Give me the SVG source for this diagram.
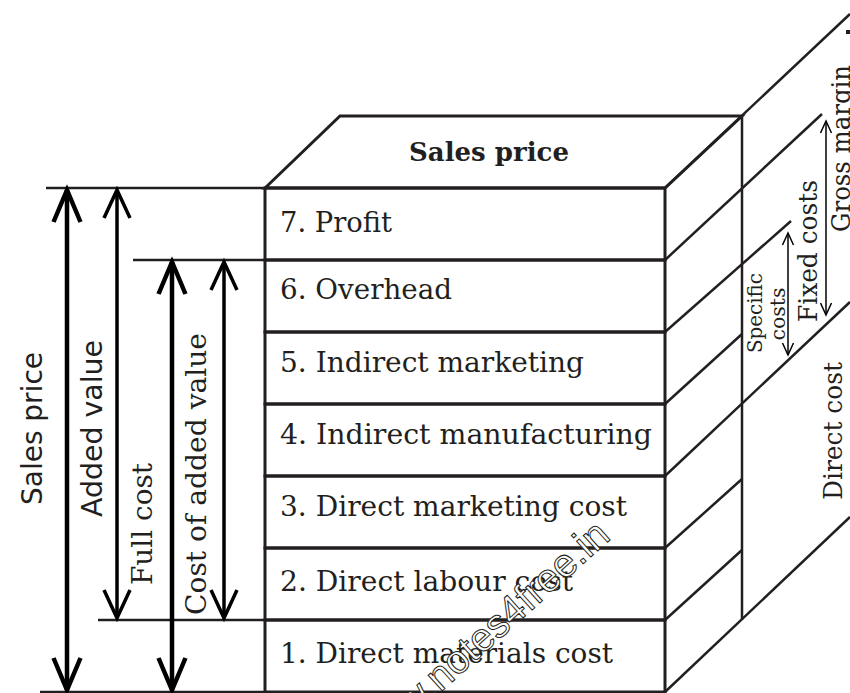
<svg xmlns="http://www.w3.org/2000/svg" width="850" height="693" viewBox="0 0 850 693">
<style>
.ln{stroke:#231f20;fill:none;stroke-linecap:butt}
.box{stroke:#231f20;stroke-width:3;fill:none}
.row{font-family:"DejaVu Serif","Liberation Serif",serif;font-size:27px;fill:#231f20}
.sans{font-family:"DejaVu Sans","Liberation Sans",sans-serif;font-size:28px;fill:#231f20}
.ser{font-family:"DejaVu Serif","Liberation Serif",serif;fill:#231f20}
.title{font-family:"DejaVu Serif","Liberation Serif",serif;font-size:26px;font-weight:bold;fill:#231f20}
.wm{font-family:"Liberation Sans","DejaVu Sans",sans-serif;font-size:40px;fill:#fff;stroke:#231f20;stroke-width:1}
</style>
<defs>
<marker id="hb" markerUnits="userSpaceOnUse" markerWidth="40" markerHeight="40" refX="0" refY="0" orient="auto-start-reverse" overflow="visible">
<path d="M-32,-13.5 L0,0 L-32,13.5" fill="none" stroke="#000" stroke-width="4.5"/>
</marker>
<marker id="hm" markerUnits="userSpaceOnUse" markerWidth="40" markerHeight="40" refX="0" refY="0" orient="auto-start-reverse" overflow="visible">
<path d="M-28,-13 L0,0 L-28,13" fill="none" stroke="#000" stroke-width="3.5"/>
</marker>
<marker id="hs" markerUnits="userSpaceOnUse" markerWidth="20" markerHeight="20" refX="0" refY="0" orient="auto-start-reverse" overflow="visible">
<path d="M-12,-5.5 L0,0 L-12,5.5" fill="none" stroke="#000" stroke-width="1.5"/>
</marker>
</defs>
<rect width="850" height="693" fill="#fff"/>

<g id="depth" class="ln" stroke-width="2.5">
<line x1="742" y1="116" x2="742" y2="620"/>
<line x1="665" y1="188" x2="850" y2="14"/>
<line x1="665" y1="260" x2="822" y2="114"/>
<line x1="665" y1="332" x2="791" y2="221"/>
<line x1="665" y1="404" x2="742" y2="334"/>
<line x1="665" y1="476" x2="850" y2="302"/>
<line x1="665" y1="548" x2="742" y2="479"/>
<line x1="665" y1="620" x2="742" y2="550"/>
<line x1="665" y1="692" x2="850" y2="517"/>
<rect x="846" y="30" width="4" height="4" fill="#231f20" stroke="none"/>
</g>

<g id="top-face">
<polygon class="box" points="265,188 340,116 742,116 665,188"/>
<text class="title" x="489" y="161" text-anchor="middle">Sales price</text>
</g>

<g id="row7"><rect class="box" x="265" y="188" width="400" height="72"/><text class="row" x="280" y="232" textLength="112" lengthAdjust="spacingAndGlyphs">7. Profit</text></g>
<g id="row6"><rect class="box" x="265" y="260" width="400" height="72"/><text class="row" x="280" y="299" textLength="172" lengthAdjust="spacingAndGlyphs">6. Overhead</text></g>
<g id="row5"><rect class="box" x="265" y="332" width="400" height="72"/><text class="row" x="280" y="372" textLength="304" lengthAdjust="spacingAndGlyphs">5. Indirect marketing</text></g>
<g id="row4"><rect class="box" x="265" y="404" width="400" height="72"/><text class="row" x="280" y="444" textLength="372" lengthAdjust="spacingAndGlyphs">4. Indirect manufacturing</text></g>
<g id="row3"><rect class="box" x="265" y="476" width="400" height="72"/><text class="row" x="280" y="516" textLength="347" lengthAdjust="spacingAndGlyphs">3. Direct marketing cost</text></g>
<g id="row2"><rect class="box" x="265" y="548" width="400" height="72"/><text class="row" x="280" y="591" textLength="293" lengthAdjust="spacingAndGlyphs">2. Direct labour cost</text></g>
<g id="row1"><rect class="box" x="265" y="620" width="400" height="72"/><text class="row" x="280" y="663" textLength="333" lengthAdjust="spacingAndGlyphs">1. Direct materials cost</text></g>

<g id="connectors">
<g class="ln" stroke-width="2.5">
<line x1="46" y1="188" x2="265" y2="188"/>
<line x1="133" y1="260" x2="265" y2="260"/>
<line x1="98" y1="620" x2="265" y2="620"/>
<line x1="40" y1="692" x2="265" y2="692"/>
</g>
<line x1="67" y1="190" x2="67" y2="690" stroke="#000" stroke-width="4.5" marker-start="url(#hb)" marker-end="url(#hb)"/>
<line x1="117" y1="190" x2="117" y2="618" stroke="#000" stroke-width="3.5" marker-start="url(#hm)" marker-end="url(#hm)"/>
<line x1="172" y1="262" x2="172" y2="690" stroke="#000" stroke-width="4.5" marker-start="url(#hb)" marker-end="url(#hb)"/>
<line x1="224" y1="262" x2="224" y2="618" stroke="#000" stroke-width="3.5" marker-start="url(#hm)" marker-end="url(#hm)"/>
<line x1="788" y1="233" x2="788" y2="355" stroke="#000" stroke-width="1.5" marker-start="url(#hs)" marker-end="url(#hs)"/>
<line x1="826" y1="121" x2="826" y2="315" stroke="#000" stroke-width="1.5" marker-start="url(#hs)" marker-end="url(#hs)"/>
</g>

<g id="labels">
<text class="sans" transform="translate(42,428.5) rotate(-90)" text-anchor="middle" textLength="153" lengthAdjust="spacingAndGlyphs">Sales price</text>
<text class="sans" transform="translate(102,428.5) rotate(-90)" text-anchor="middle" textLength="177" lengthAdjust="spacingAndGlyphs">Added value</text>
<text class="ser" font-size="27" transform="translate(152,524) rotate(-90)" text-anchor="middle" textLength="122" lengthAdjust="spacingAndGlyphs">Full cost</text>
<text class="ser" font-size="27" transform="translate(206,474) rotate(-90)" text-anchor="middle" textLength="282" lengthAdjust="spacingAndGlyphs">Cost of added value</text>
<text class="ser" font-size="20" transform="translate(762,313) rotate(-90)" text-anchor="middle" textLength="80" lengthAdjust="spacingAndGlyphs">Specific</text>
<text class="ser" font-size="20" transform="translate(785,314) rotate(-90)" text-anchor="middle" textLength="53" lengthAdjust="spacingAndGlyphs">costs</text>
<text class="ser" font-size="26" transform="translate(817,251) rotate(-90)" text-anchor="middle" textLength="142" lengthAdjust="spacingAndGlyphs">Fixed costs</text>
<text class="ser" font-size="26" transform="translate(850,148.5) rotate(-90)" text-anchor="middle" textLength="167" lengthAdjust="spacingAndGlyphs">Gross margin</text>
<text class="ser" font-size="26" transform="translate(842,431) rotate(-90)" text-anchor="middle" textLength="138" lengthAdjust="spacingAndGlyphs">Direct cost</text>
</g>

<text class="wm" transform="translate(612,538) rotate(-42)" text-anchor="end">www.notes4free.in</text>
</svg>
